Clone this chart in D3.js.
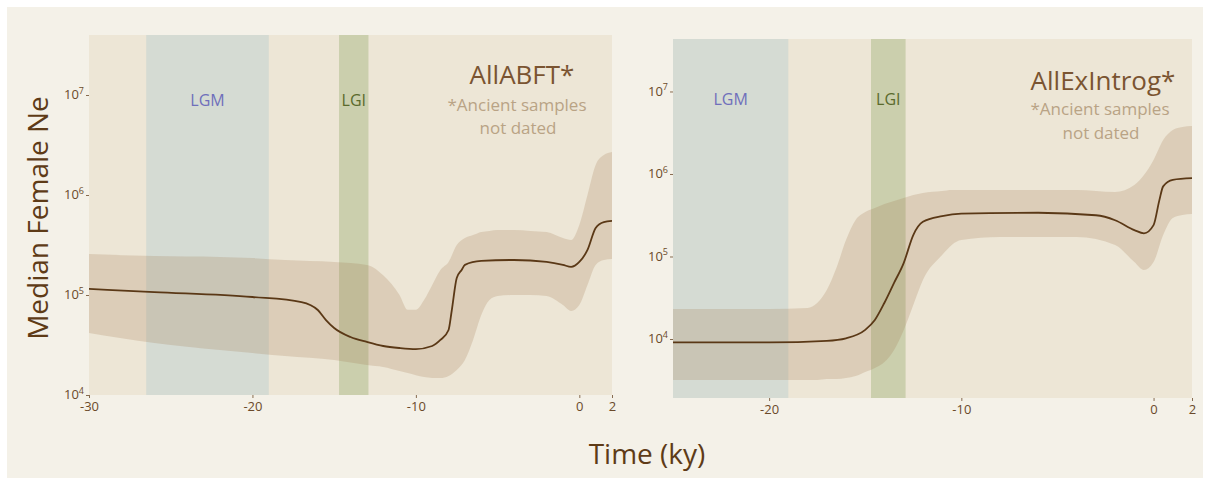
<!DOCTYPE html>
<html>
<head>
<meta charset="utf-8">
<script src="https://cdn.jsdelivr.net/npm/d3@7"></script>
<style>
  html, body { margin: 0; padding: 0; background: #ffffff; }
  svg { display: block; font-family: "Open Sans", "Noto Sans", sans-serif; }
</style>
</head>
<body>
<svg id="chart" width="1205" height="481"></svg>
<script>
// ---- AllABFT* (left panel) ----
const abftMedianTime = [-30, -26, -20, -17, -16, -15.5, -15, -14, -13, -12, -11, -10, -9, -8.5, -8, -7.8, -7.5, -7.2, -7, -6, -4, -2, -1, -0.5, 0, 0.5, 1, 1.5, 2];
const abftMedianNe = [1.15e5, 1.07e5, 9.55e4, 8.51e4, 7.08e4, 5.62e4, 4.68e4, 3.80e4, 3.39e4, 3.09e4, 2.95e4, 2.88e4, 3.09e4, 3.55e4, 4.47e4, 7.08e4, 1.48e5, 1.78e5, 2.00e5, 2.19e5, 2.24e5, 2.14e5, 2.00e5, 1.91e5, 2.14e5, 2.82e5, 4.68e5, 5.37e5, 5.50e5];

const abftBandTime = [-30, -26, -22, -20, -18, -15, -13, -12, -11, -10.5, -10, -9.5, -9, -8.5, -8, -7.5, -7, -6.5, -6, -5.5, -5, -4, -3, -2, -1, -0.5, 0, 0.5, 1, 1.5, 2];
const abftUpperNe = [2.57e5, 2.45e5, 2.40e5, 2.34e5, 2.24e5, 2.14e5, 2.00e5, 1.58e5, 1.00e5, 7.1e4, 7.1e4, 8.9e4, 1.26e5, 1.78e5, 2.14e5, 3.16e5, 3.72e5, 3.98e5, 4.27e5, 4.37e5, 4.47e5, 4.47e5, 4.37e5, 4.27e5, 3.72e5, 3.55e5, 5.01e5, 1.0e6, 2.0e6, 2.51e6, 2.69e6];
const abftLowerNe = [4.17e4, 3.31e4, 2.82e4, 2.63e4, 2.45e4, 2.24e4, 2.0e4, 1.91e4, 1.74e4, 1.66e4, 1.58e4, 1.51e4, 1.48e4, 1.48e4, 1.55e4, 1.78e4, 2.24e4, 3.55e4, 6.31e4, 8.91e4, 9.77e4, 1.0e5, 1.0e5, 9.77e4, 7.94e4, 6.92e4, 7.94e4, 1.26e5, 2.0e5, 2.24e5, 2.29e5];

// ---- AllExIntrog* (right panel) ----
const exIntrogMedianTime = [-25, -20, -17, -16, -15, -14.5, -14, -13.5, -13, -12.5, -12, -11, -10, -6, -3, -2, -1, -0.5, 0, 0.3, 0.5, 1, 2];
const exIntrogMedianNe = [9.1e3, 9.1e3, 9.5e3, 1.02e4, 1.29e4, 1.70e4, 2.75e4, 4.79e4, 8.32e4, 1.82e5, 2.63e5, 3.09e5, 3.31e5, 3.39e5, 3.16e5, 2.75e5, 2.09e5, 1.91e5, 2.40e5, 4.79e5, 7.08e5, 8.51e5, 8.91e5];

const exIntrogBandTime = [-25, -20, -18, -17.5, -17, -16.5, -16, -15.5, -15, -14.5, -14, -13.5, -13, -12.5, -12, -11, -10.5, -10, -8, -5, -4, -2, -1, -0.5, 0, 0.5, 1, 1.5, 2];
const exIntrogUpperNe = [2.31e4, 2.31e4, 2.38e4, 2.73e4, 3.93e4, 7.26e4, 1.58e5, 2.77e5, 3.46e5, 3.87e5, 4.33e5, 4.71e5, 5.12e5, 5.56e5, 5.89e5, 6.22e5, 6.40e5, 6.40e5, 6.40e5, 6.40e5, 6.40e5, 6.05e5, 7.36e5, 9.72e5, 1.48e6, 2.58e6, 3.41e6, 3.72e6, 3.82e6];
const exIntrogLowerNe = [3.18e3, 3.18e3, 3.18e3, 3.18e3, 3.27e3, 3.27e3, 3.37e3, 3.56e3, 3.98e3, 4.45e3, 5.26e3, 7.36e3, 1.28e4, 2.58e4, 5.19e4, 1.04e5, 1.38e5, 1.58e5, 1.72e5, 1.72e5, 1.72e5, 1.38e5, 8.57e4, 6.86e4, 8.57e4, 1.82e5, 2.93e5, 3.18e5, 3.27e5];

// ---- shared axis / period definitions (ky) ----
const neTicks = [1e4, 1e5, 1e6, 1e7];
const abftTimeTicks = [-30, -20, -10, 0, 2];
const exIntrogTimeTicks = [-20, -10, 0, 2];
const periodNames = ["LGM", "LGI"];
const periodStart = [-26.5, -14.7];
const periodEnd = [-19.0, -12.9];

const svg = d3.select("#chart");

// page background
svg.append("rect").attr("x", 7).attr("y", 7).attr("width", 1196).attr("height", 471).attr("fill", "#f4f1e8");

const colors = {
  plotBg: "#ede6d6",
  band: ["#d5dbd3", "#cbcfad"],
  bandText: ["#6f6fbb", "#5a6a2c"],
  ci: "rgba(160,118,78,0.22)",
  line: "#5a3816",
  tick: "#6b4a2a",
  title: "#7a5431",
  subtitle: "#b9a385",
  axisTitle: "#5e3b17"
};

const panels = [
  {
    left: 89, right: 612, top: 35, bottom: 395,
    tDomain: [-30, 2], neDomain: [1e4, Math.pow(10, 7.6)],
    medT: abftMedianTime, medNe: abftMedianNe,
    bandT: abftBandTime, upper: abftUpperNe, lower: abftLowerNe,
    ticks: abftTimeTicks,
    title: "AllABFT*", titleX: 522, titleY: 84, subX: 517, subY1: 111, subY2: 134,
    periodLabelY: 106
  },
  {
    left: 673, right: 1192, top: 39, bottom: 398,
    tDomain: [-25, 2], neDomain: [Math.pow(10, 3.285), Math.pow(10, 7.636)],
    medT: exIntrogMedianTime, medNe: exIntrogMedianNe,
    bandT: exIntrogBandTime, upper: exIntrogUpperNe, lower: exIntrogLowerNe,
    ticks: exIntrogTimeTicks,
    title: "AllExIntrog*", titleX: 1103, titleY: 90, subX: 1100, subY1: 115, subY2: 139,
    periodLabelY: 105
  }
];

panels.forEach(p => {
  const x = d3.scaleLinear().domain(p.tDomain).range([p.left, p.right]);
  const y = d3.scaleLog().domain(p.neDomain).range([p.bottom, p.top]);
  const g = svg.append("g");

  const clipId = "clip" + p.left;
  g.append("clipPath").attr("id", clipId).append("rect")
    .attr("x", p.left).attr("y", p.top).attr("width", p.right - p.left).attr("height", p.bottom - p.top);

  g.append("rect").attr("x", p.left).attr("y", p.top)
    .attr("width", p.right - p.left).attr("height", p.bottom - p.top).attr("fill", colors.plotBg);

  // climatic periods
  periodNames.forEach((name, i) => {
    const x0 = Math.max(p.left, x(periodStart[i]));
    const x1 = x(periodEnd[i]);
    g.append("rect").attr("x", x0).attr("y", p.top).attr("width", x1 - x0).attr("height", p.bottom - p.top)
      .attr("fill", colors.band[i]);
    g.append("text").attr("x", (x0 + x1) / 2).attr("y", p.periodLabelY)
      .attr("text-anchor", "middle").attr("font-size", 16).attr("fill", colors.bandText[i]).text(name);
  });

  // credible interval
  const bandData = p.bandT.map((t, i) => ({ t, lo: p.lower[i], hi: p.upper[i] }));
  g.append("path").datum(bandData).attr("clip-path", `url(#${clipId})`)
    .attr("fill", colors.ci)
    .attr("d", d3.area().curve(d3.curveMonotoneX).x(d => x(d.t)).y0(d => y(d.lo)).y1(d => y(d.hi)));

  // median trajectory
  const medData = p.medT.map((t, i) => ({ t, ne: p.medNe[i] }));
  g.append("path").datum(medData).attr("clip-path", `url(#${clipId})`)
    .attr("fill", "none").attr("stroke", colors.line).attr("stroke-width", 1.8)
    .attr("d", d3.line().curve(d3.curveMonotoneX).x(d => x(d.t)).y(d => y(d.ne)));

  // y axis
  const yAxis = g.append("g").attr("transform", `translate(${p.left},0)`)
    .call(d3.axisLeft(y).tickValues(neTicks).tickSize(3).tickPadding(2).tickFormat(() => ""));
  yAxis.select(".domain").remove();
  yAxis.selectAll(".tick line").attr("stroke", colors.tick).attr("stroke-width", 0.8);
  yAxis.selectAll(".tick text").each(function(d) {
    const t = d3.select(this).attr("font-size", 13).attr("fill", colors.tick)
      .attr("font-family", "'Open Sans', sans-serif").attr("dy", "0.3em");
    t.append("tspan").text("10");
    t.append("tspan").attr("font-size", 9).attr("dy", "-0.6em").text(Math.round(Math.log10(d)));
  });

  // x axis
  const xAxis = g.append("g").attr("transform", `translate(0,${p.bottom})`)
    .call(d3.axisBottom(x).tickValues(p.ticks).tickSize(3).tickPadding(4).tickFormat(d => String(d)));
  xAxis.select(".domain").remove();
  xAxis.selectAll(".tick line").attr("stroke", colors.tick).attr("stroke-width", 0.8);
  xAxis.selectAll(".tick text").attr("font-size", 13).attr("fill", colors.tick)
    .attr("font-family", "'Open Sans', sans-serif");

  // panel titles
  g.append("text").attr("x", p.titleX).attr("y", p.titleY).attr("text-anchor", "middle")
    .attr("font-size", 26).attr("fill", colors.title).text(p.title);
  g.append("text").attr("x", p.subX).attr("y", p.subY1).attr("text-anchor", "middle")
    .attr("font-size", 17).attr("fill", colors.subtitle).text("*Ancient samples");
  g.append("text").attr("x", p.subX + 1).attr("y", p.subY2).attr("text-anchor", "middle")
    .attr("font-size", 17).attr("fill", colors.subtitle).text("not dated");
});

// axis titles
svg.append("text").attr("transform", "translate(48,218) rotate(-90)").attr("text-anchor", "middle")
  .attr("font-size", 28).attr("fill", colors.axisTitle).text("Median Female Ne");
svg.append("text").attr("x", 647).attr("y", 464).attr("text-anchor", "middle")
  .attr("font-size", 28).attr("fill", colors.axisTitle).text("Time (ky)");
</script>
</body>
</html>
